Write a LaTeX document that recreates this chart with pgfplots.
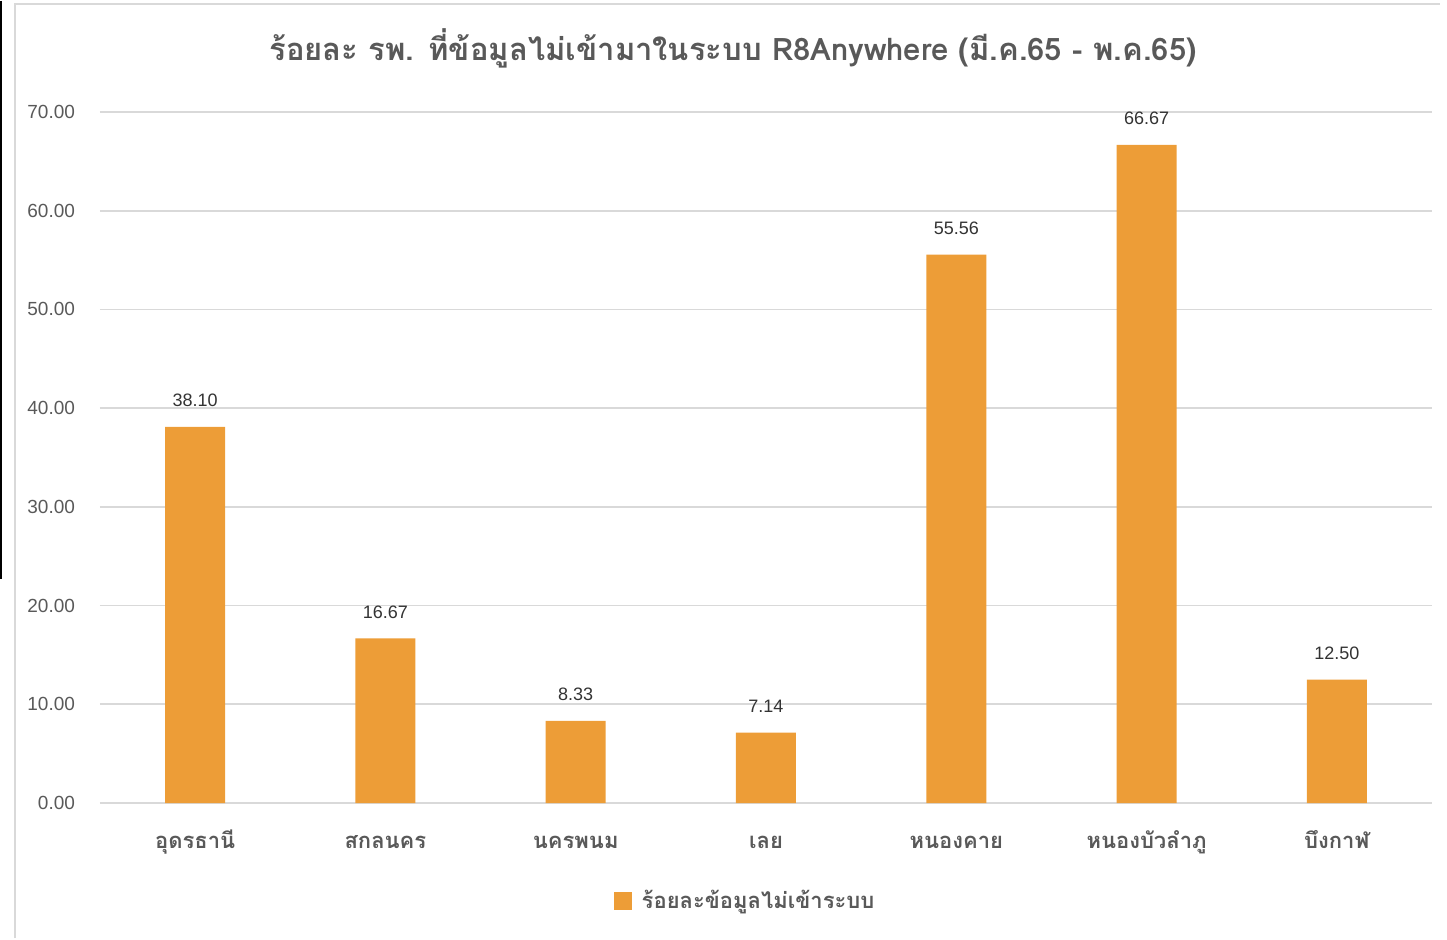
\documentclass[border=0pt]{standalone}
\usepackage{fontspec}
\setmainfont{Liberation Sans}
\newfontfamily\thaifont[Script=Thai]{Loma}
\usepackage{pgfplots}
\pgfplotsset{compat=1.18}

\definecolor{barorange}{HTML}{ED9D37}
\definecolor{txtgray}{HTML}{595959}
\definecolor{gridgray}{HTML}{D9D9D9}

\begin{document}
\begin{tikzpicture}
% canvas: 1px = 0.5pt, 1447x937 px
\path (0,0) rectangle (723.5pt,468.5pt);
% screenshot frame
\draw[gridgray, line width=1pt] (7.5pt,0) -- (7.5pt,467pt) -- (720pt,467pt);
\draw[black, line width=1pt] (0.5pt,468.5pt) -- (0.5pt,179.5pt);

\node[text=txtgray, font=\thaifont\bfseries\fontsize{15.5}{18}\selectfont] at (366.5pt,445pt)
  {ร้อยละ รพ. ที่ข้อมูลไม่เข้ามาในระบบ R8Anywhere (มี.ค.65 - พ.ค.65)};

\begin{axis}[
    at={(50pt,67.5pt)}, anchor=south west,
    scale only axis,
    width=666pt, height=345.5pt,
    ybar, bar width=30pt,
    xmin=-0.5, xmax=6.5,
    ymin=0, ymax=70,
    xtick={0,1,2,3,4,5,6},
    xticklabels={อุดรธานี,สกลนคร,นครพนม,เลย,หนองคาย,หนองบัวลำภู,บึงกาฬ},
    ytick={0,10,20,30,40,50,60,70},
    ymajorgrids=true,
    grid style={gridgray, line width=0.8pt},
    axis line style={draw=none},
    major tick length=0pt,
    tick label style={text=txtgray},
    xticklabel style={font=\thaifont\bfseries\fontsize{11}{13}\selectfont, anchor=north,
        text height=8pt, text depth=3pt, yshift=-11pt},
    yticklabel style={font=\fontsize{9.5}{11}\selectfont, xshift=-9pt},
    /pgf/number format/assume math mode=true,
    yticklabel={\pgfmathprintnumber[fixed,fixed zerofill,precision=2]{\tick}},
    nodes near coords={\pgfmathprintnumber[fixed,fixed zerofill,precision=2,assume math mode=true]{\pgfplotspointmeta}},
    every node near coord/.append style={font=\fontsize{9}{10}\selectfont, text=black!80, yshift=6.5pt},
    legend style={at={(0.485,-0.142)}, anchor=center, draw=none, fill=none,
        font=\thaifont\bfseries\fontsize{11}{13}\selectfont, text=txtgray},
    legend cell align=left,
    legend image code/.code={\fill[barorange] (0pt,-4.5pt) rectangle (9pt,4.5pt);},
    clip=false,
]
\addplot[fill=barorange, draw=none] coordinates {
(0,38.10)
(1,16.67)
(2,8.33)
(3,7.14)
(4,55.56)
(5,66.67)
(6,12.50)
};
\addlegendentry{\hspace{3pt}ร้อยละข้อมูลไม่เข้าระบบ}
\end{axis}
\end{tikzpicture}
\end{document}
